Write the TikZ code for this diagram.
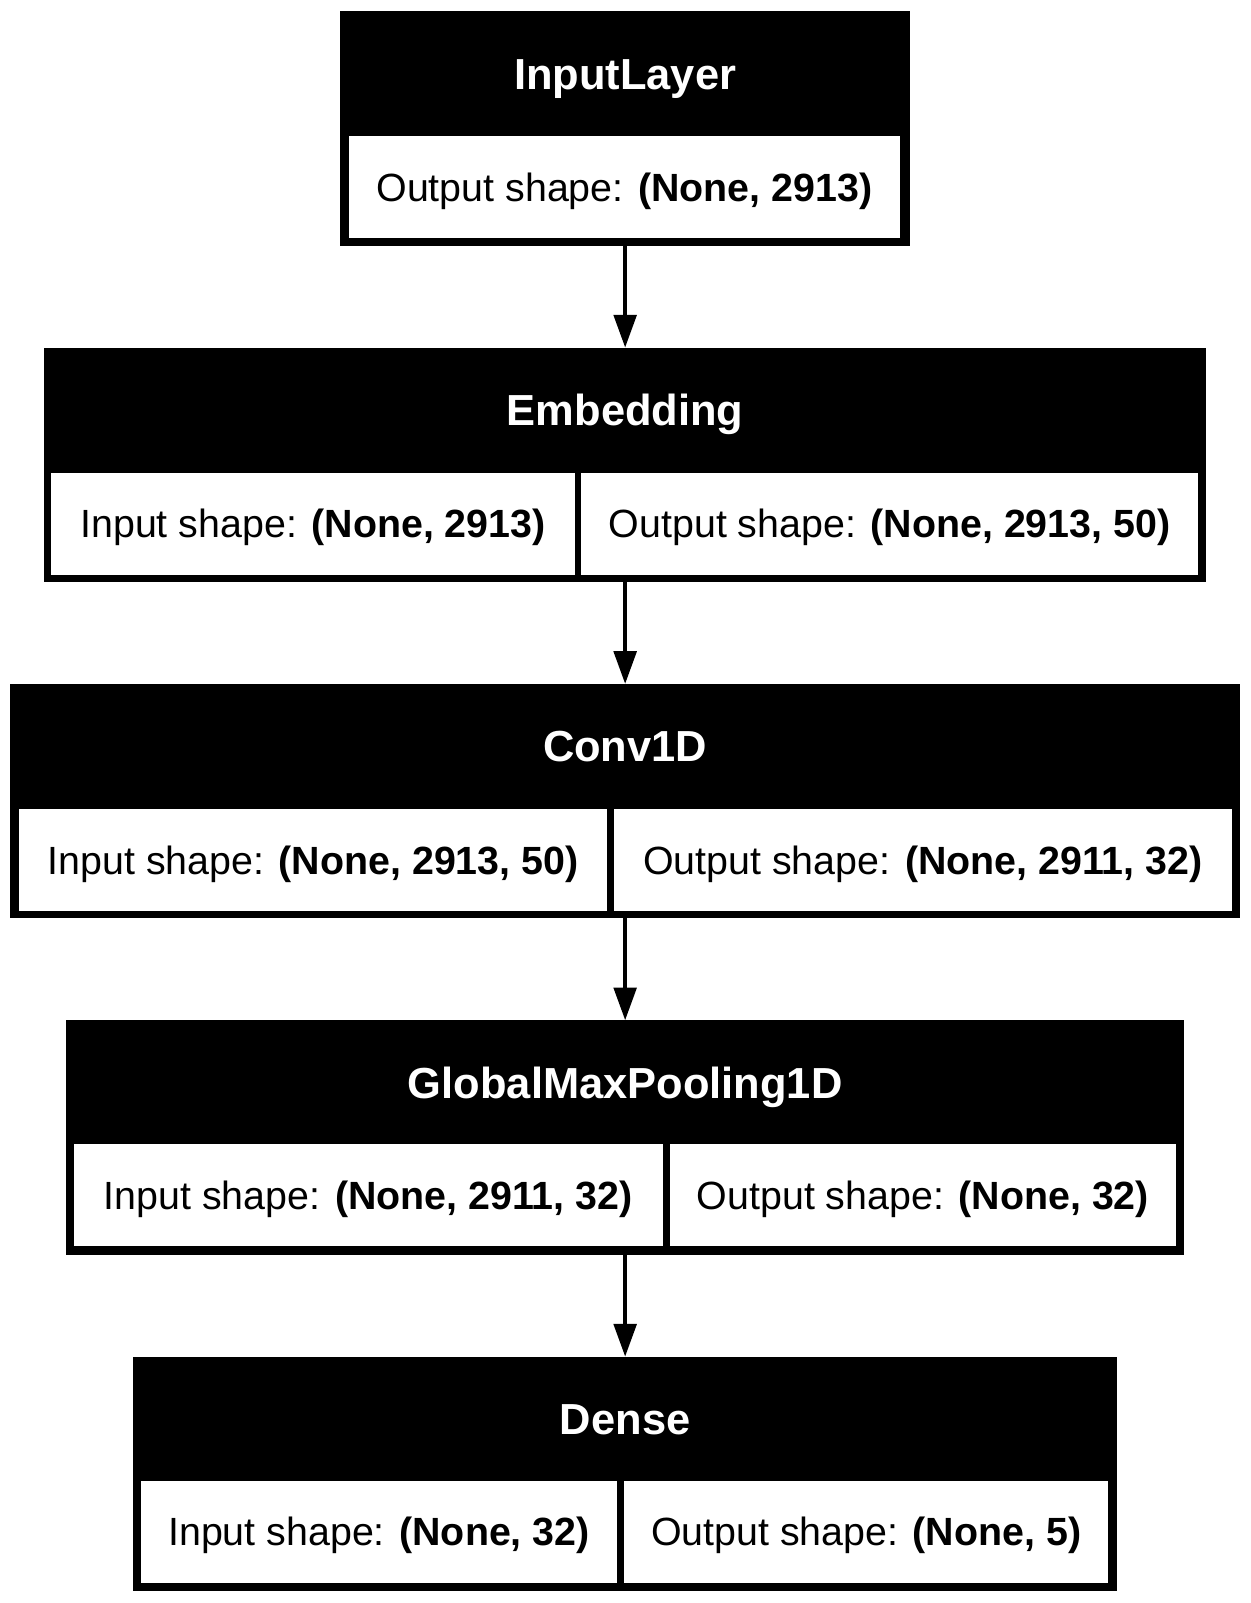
\documentclass[tikz,border=0pt]{standalone}
\usepackage{fontspec}
\setmainfont{Liberation Sans}
\usetikzlibrary{arrows.meta}
\tikzset{
  layerbox/.style={fill=black, draw=none, inner sep=0pt},
  cell/.style={fill=white, draw=none, inner sep=0pt, anchor=north west, minimum height=100pt,
               text height=27.6pt, text depth=0pt,
               font=\fontsize{38.5}{46}\selectfont},
  ttl/.style={text=white, inner sep=0pt, text height=30.4pt, text depth=0pt,
              font=\fontsize{42.5}{50}\selectfont\bfseries},
  arr/.style={line width=4pt, -{Triangle[length=32pt,width=22pt]}}
}
\begin{document}
\begin{tikzpicture}[x=1pt,y=-1pt]
\useasboundingbox (0,0) rectangle (1223,1568);
% InputLayer
\node[layerbox, minimum width=557pt, minimum height=229pt, anchor=north] (L1) at (611.5,11) {};
\node[ttl] (L1t) at (611.5,72) {InputLayer};
\node[cell, minimum width=539pt] (L1o) at (341,133) {Output shape: \textbf{(None, 2913)}};
% Embedding
\node[layerbox, minimum width=1137pt, minimum height=229pt, anchor=north] (L2) at (611.5,340) {};
\node[ttl] (L2t) at (611.5,401) {Embedding};
\node[cell, minimum width=512pt] (L2i) at (50,462) {Input shape: \textbf{(None, 2913)}};
\node[cell, minimum width=604pt] (L2o) at (568,462) {Output shape: \textbf{(None, 2913, 50)}};
% Conv1D
\node[layerbox, minimum width=1203pt, minimum height=229pt, anchor=north] (L3) at (611.5,669) {};
\node[ttl] (L3t) at (611.5,730) {Conv1D};
\node[cell, minimum width=576pt] (L3i) at (18,791) {Input shape: \textbf{(None, 2913, 50)}};
\node[cell, minimum width=605pt] (L3o) at (600,791) {Output shape: \textbf{(None, 2911, 32)}};
% GlobalMaxPooling1D
\node[layerbox, minimum width=1093pt, minimum height=229pt, anchor=north] (L4) at (611.5,998) {};
\node[ttl] (L4t) at (611.5,1059) {GlobalMaxPooling1D};
\node[cell, minimum width=576pt] (L4i) at (72,1119) {Input shape: \textbf{(None, 2911, 32)}};
\node[cell, minimum width=495pt] (L4o) at (655,1119) {Output shape: \textbf{(None, 32)}};
% Dense
\node[layerbox, minimum width=962pt, minimum height=229pt, anchor=north] (L5) at (611.5,1327) {};
\node[ttl] (L5t) at (611.5,1388) {Dense};
\node[cell, minimum width=465pt] (L5i) at (138,1448) {Input shape: \textbf{(None, 32)}};
\node[cell, minimum width=474pt] (L5o) at (610,1448) {Output shape: \textbf{(None, 5)}};
% arrows
\draw[arr] (L1.south) -- (L2.north);
\draw[arr] (L2.south) -- (L3.north);
\draw[arr] (L3.south) -- (L4.north);
\draw[arr] (L4.south) -- (L5.north);
\end{tikzpicture}
\end{document}
